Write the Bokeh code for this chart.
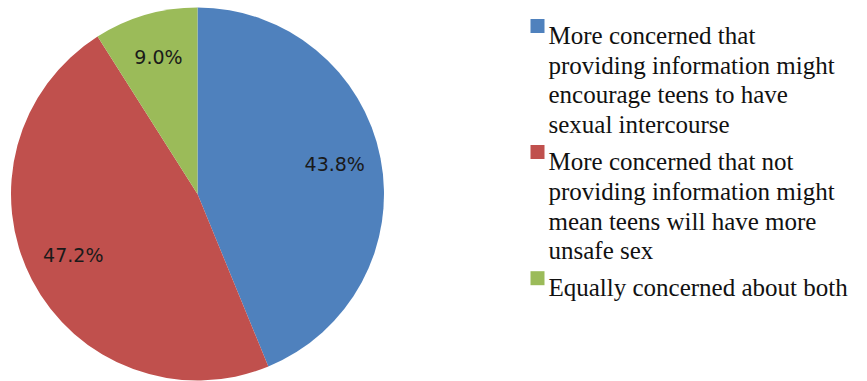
import math
from bokeh.plotting import figure
from bokeh.models import Range1d, ColumnDataSource
from bokeh.core.properties import value
from bokeh.embed import file_html
from bokeh.resources import INLINE

# ---- data ----
categories = [
    "More concerned that\nproviding information might\nencourage teens to have\nsexual intercourse",
    "More concerned that not\nproviding information might\nmean teens will have more\nunsafe sex",
    "Equally concerned about both",
]
shares = [43.8, 47.2, 9.0]
colors = ["#4F81BD", "#C0504D", "#9BBB59"]

W, H = 867, 381
p = figure(width=W, height=H, output_backend="svg", toolbar_location=None,
           x_axis_type=None, y_axis_type=None, min_border=0,
           x_range=Range1d(0, W), y_range=Range1d(0, H))
p.outline_line_color = None
p.grid.visible = False
p.background_fill_color = "white"
p.border_fill_color = "white"

# pie geometry (pixel space, y up)
cx, cy, R = 197.0, H - 193.5, 186.5
total = sum(shares)
starts, ends, mids = [], [], []
cum = 0.0
for s in shares:
    a0 = math.pi / 2 - 2 * math.pi * cum / total
    cum += s
    a1 = math.pi / 2 - 2 * math.pi * cum / total
    starts.append(a0)
    ends.append(a1)
    mids.append((a0 + a1) / 2)

src = ColumnDataSource(dict(start=starts, end=ends, color=colors))
p.wedge(x=cx, y=cy, radius=R, start_angle="start", end_angle="end",
        direction="clock", fill_color="color", line_color=None, source=src)

# data labels
frac = 0.75
lx = [cx + frac * R * math.cos(m) for m in mids]
ly = [cy + frac * R * math.sin(m) + 3 for m in mids]
ltxt = [f"{s:.1f}%" for s in shares]
p.text(x=lx, y=ly, text=ltxt, text_font=value("DejaVu Sans"),
       text_font_size="19px", text_color="#1a1a1a",
       text_align="center", text_baseline="middle")

# legend
line_step = 29.7
entry_gap = 37.0
base = 35.0  # baseline of first line (px from top)
tx, ty, tt = [], [], []
sx, sy = [], []
for cat in categories:
    lines = cat.split("\n")
    sx.append(537.0)
    sy.append(H - (base - 9.5))
    for i, ln in enumerate(lines):
        tx.append(548.0)
        ty.append(H - (base + i * line_step))
        tt.append(ln)
    base += (len(lines) - 1) * line_step + entry_gap

p.rect(x=sx, y=sy, width=14, height=14, fill_color=colors, line_color=None)
p.text(x=tx, y=ty, text=tt, text_font=value("Liberation Serif"),
       text_font_size="25px", text_color="#111111",
       text_align="left", text_baseline="alphabetic")

open("out.html", "w").write(file_html(p, INLINE))
